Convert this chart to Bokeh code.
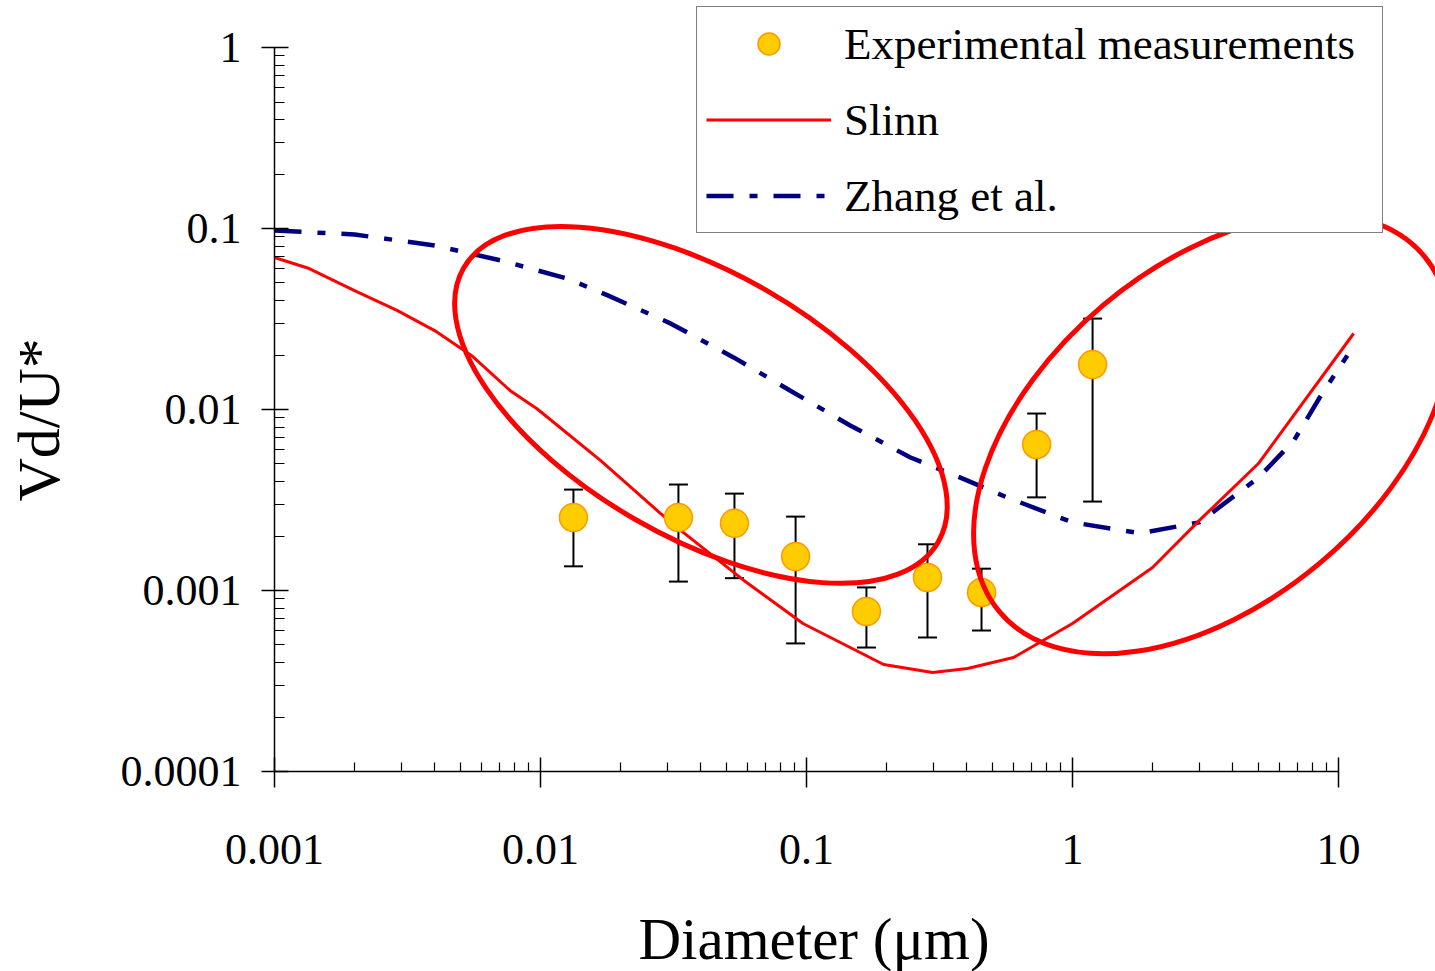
from bokeh.plotting import figure
from bokeh.models import (Range1d, FixedTicker, Whisker, TeeHead, ColumnDataSource,
                          Legend, LegendItem, Label)
from bokeh.embed import file_html
from bokeh.resources import INLINE
import math

# ---------------- data ----------------
exp_d = [0.0133, 0.033, 0.0536, 0.091, 0.168, 0.285, 0.455, 0.733, 1.19]
exp_v = [0.00253, 0.00253, 0.00235, 0.00154, 0.000766, 0.00118, 0.000975, 0.00641, 0.0177]
exp_hi = [0.00361, 0.00385, 0.00343, 0.00256, 0.00104, 0.0018, 0.00132, 0.0095, 0.0318]
exp_lo = [0.00136, 0.00112, 0.00117, 0.00051, 0.000484, 0.00055, 0.000601, 0.00327, 0.0031]

slinn_d = [0.001, 0.00135, 0.002, 0.0029, 0.004, 0.0055, 0.0077, 0.0097, 0.0168, 0.0283,
           0.0345, 0.058, 0.097, 0.195, 0.298, 0.403, 0.6, 1.0, 2.0, 3.0, 5.0, 11.4]
slinn_v = [0.0692, 0.0601, 0.0454, 0.0352, 0.0273, 0.0199, 0.0127, 0.0101, 0.00523, 0.00266,
           0.00209, 0.00114, 0.000657, 0.00039, 0.000352, 0.000371, 0.000426, 0.000657,
           0.00134, 0.00244, 0.00503, 0.0263]

zhang_d = [0.001, 0.002, 0.004, 0.0071, 0.0126, 0.0179, 0.0308, 0.0532, 0.087, 0.146, 0.246,
           0.379, 0.57, 1.0, 1.8, 3.0, 5.0, 6.8, 8.5, 10.8]
zhang_v = [0.0975, 0.0927, 0.0806, 0.0666, 0.0529, 0.0427, 0.0299, 0.0194, 0.0127, 0.00816,
           0.00543, 0.0042, 0.00326, 0.00238, 0.00207, 0.00238, 0.0042, 0.00674, 0.01165, 0.0199]

# highlighted regions (ellipse centres in data coordinates)
region_d = [0.0401, 3.34]
region_v = [0.0106, 0.00733]

x_ticks = [0.001, 0.01, 0.1, 1, 10]
x_tick_labels = ["0.001", "0.01", "0.1", "1", "10"]
y_ticks = [0.0001, 0.001, 0.01, 0.1, 1]
y_tick_labels = ["0.0001", "0.001", "0.01", "0.1", "1"]

series_names = ["Experimental measurements", "Slinn", "Zhang et al."]
x_title = "Diameter (\u03bcm)"
y_title = "Vd/U*"

FONT = "Liberation Serif"

# ---------------- figure ----------------
# the frame fills the whole canvas; the axes are pinned at x=0.001 and y=0.0001
p = figure(width=1435, height=971, x_axis_type="log", y_axis_type="log",
           x_range=Range1d(9.33e-5, 23.16), y_range=Range1d(7.85e-6, 1.819),
           output_backend="svg", toolbar_location=None,
           min_border_left=0, min_border_right=0, min_border_top=0, min_border_bottom=0)
p.grid.visible = False
p.outline_line_color = None
p.background_fill_color = "white"
p.border_fill_color = "white"

def minor_list(ticks):
    out = []
    for t in ticks[:-1]:
        for m in range(2, 10):
            out.append(t * m)
    return out

p.xaxis.ticker = FixedTicker(ticks=x_ticks, minor_ticks=minor_list(x_ticks))
p.yaxis.ticker = FixedTicker(ticks=y_ticks, minor_ticks=minor_list(y_ticks))
p.xaxis.major_label_overrides = dict(zip(x_ticks, x_tick_labels))
p.yaxis.major_label_overrides = dict(zip(y_ticks, y_tick_labels))
p.xaxis.bounds = (x_ticks[0], x_ticks[-1])
p.yaxis.bounds = (y_ticks[0], y_ticks[-1])
p.xaxis.fixed_location = y_ticks[0]
p.yaxis.fixed_location = x_ticks[0]

for ax in (p.xaxis[0], p.yaxis[0]):
    ax.axis_line_color = "black"
    ax.axis_line_width = 1.5
    ax.major_tick_line_color = "black"
    ax.major_tick_line_width = 1.5
    ax.minor_tick_line_color = "black"
    ax.minor_tick_line_width = 1.2
    ax.minor_tick_out = 0
    ax.major_label_text_font = FONT
    ax.major_label_text_font_size = "44px"
    ax.major_label_text_color = "black"

p.xaxis.major_tick_in = 14
p.xaxis.major_tick_out = 16
p.xaxis.minor_tick_in = 9
p.xaxis.major_label_standoff = 48
p.yaxis.major_tick_in = 14
p.yaxis.major_tick_out = 13
p.yaxis.minor_tick_in = 10
p.yaxis.major_label_standoff = 20

# axis titles (screen pixels from the frame's bottom-left = canvas bottom-left)
p.add_layout(Label(x=638, y=33, x_units="screen", y_units="screen", text=x_title,
                   text_align="left", text_baseline="alphabetic", text_font=FONT,
                   text_font_size="59px", text_color="black"))
p.add_layout(Label(x=38, y=470, x_units="screen", y_units="screen", text=y_title,
                   angle=math.pi / 2, text_align="left", text_baseline="alphabetic",
                   text_font=FONT, text_font_size="60px", text_color="black"))

# ---------------- glyphs ----------------
zr = p.line(zhang_d, zhang_v, line_color="#000080", line_width=4.5, line_dash="27 16 8 16")
sr = p.line(slinn_d, slinn_v, line_color="#FF0000", line_width=3)

p.ellipse(x=region_d, y=region_v, width=[548, 554], height=[264, 337],
          angle=[math.radians(-30), math.radians(40)],
          width_units="screen", height_units="screen",
          fill_alpha=0, line_color="#FF0000", line_width=5, level="overlay")

src = ColumnDataSource(dict(d=exp_d, v=exp_v, hi=exp_hi, lo=exp_lo))
wh = Whisker(source=src, base="d", upper="hi", lower="lo", dimension="height",
             line_color="black", line_width=2,
             upper_head=TeeHead(size=19, line_color="black", line_width=2),
             lower_head=TeeHead(size=19, line_color="black", line_width=2))
p.add_layout(wh)
er = p.scatter("d", "v", source=src, size=28, fill_color="#FFCC00",
               line_color="#FF9900", line_width=1.5)

legend = Legend(items=[LegendItem(label=series_names[0], renderers=[er]),
                       LegendItem(label=series_names[1], renderers=[sr]),
                       LegendItem(label=series_names[2], renderers=[zr])],
                location=(696, 738), padding=9, glyph_width=125, glyph_height=55,
                label_standoff=13, label_width=529, spacing=21, label_text_font=FONT,
                label_text_font_size="45px", label_text_color="black",
                border_line_color="black",
                border_line_width=1.3, background_fill_alpha=1, margin=0)
p.add_layout(legend, "center")

open("out.html", "w").write(file_html(p, INLINE))
